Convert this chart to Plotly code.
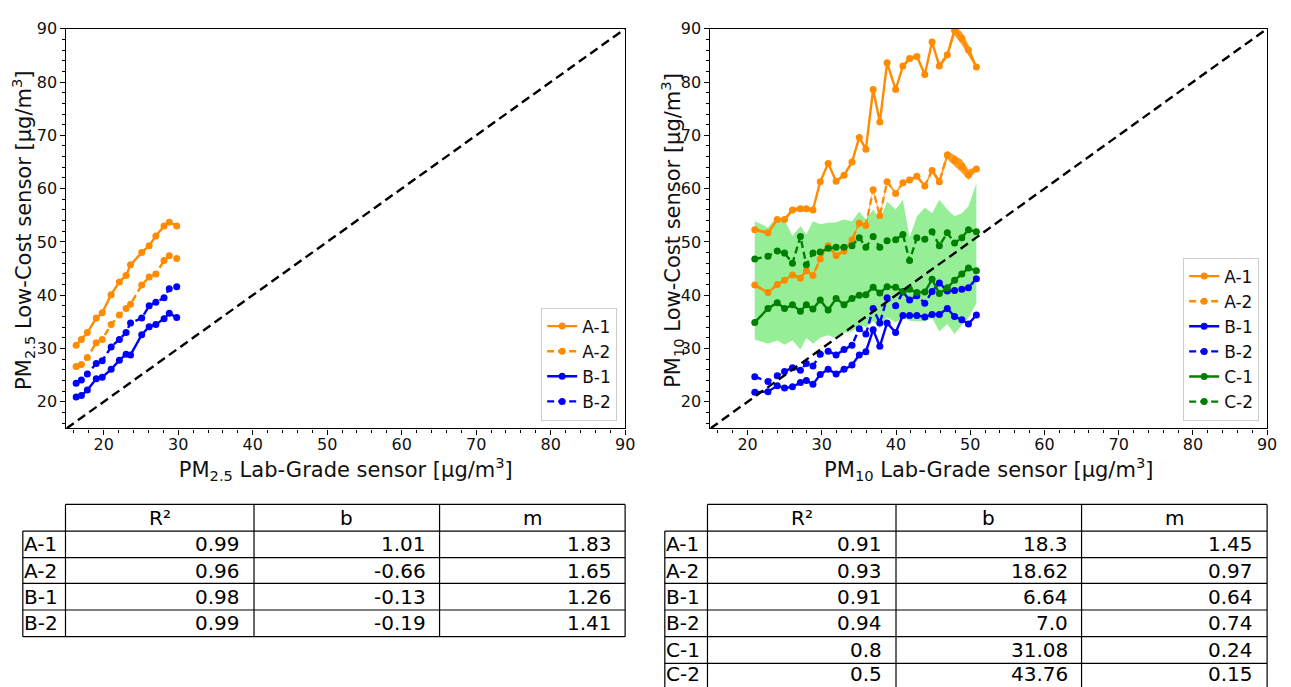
import plotly.graph_objects as go

W, H = 1291, 687

# ---------------- data: PM2.5 (left) ----------------
pm25_lab = [16.3, 17.0, 17.8, 19.0, 19.8, 21.0, 22.1, 23.0, 23.6, 25.1, 26.1, 27.0, 28.1, 28.8, 29.8]
pm25_A1 = [30.6, 31.7, 33.0, 35.7, 36.7, 40.1, 42.5, 43.7, 45.7, 48.0, 49.3, 51.1, 53.0, 53.7, 53.0]
pm25_A2 = [26.6, 27.0, 28.3, 31.1, 31.7, 34.5, 36.3, 37.5, 38.3, 41.9, 43.4, 44.0, 46.5, 47.4, 46.9]
pm25_B1 = [20.9, 21.2, 22.2, 24.3, 24.6, 26.1, 27.8, 28.9, 28.8, 32.6, 34.1, 34.5, 35.6, 36.6, 35.8]
pm25_B2 = [23.5, 24.1, 25.2, 27.2, 27.7, 30.3, 31.7, 33.0, 34.8, 35.7, 38.0, 38.7, 39.5, 41.2, 41.6]

# ---------------- data: PM10 (right) ----------------
pm10_lab = [20.97, 22.75, 24.0, 24.98, 26.05, 27.12, 27.92, 28.81, 29.79, 30.86,
            31.93, 33.0, 34.07, 35.05, 35.94, 36.92, 37.82, 38.8, 39.95, 40.93,
            41.83, 42.81, 43.88, 44.86, 45.84, 46.91, 47.89, 48.87, 49.76, 50.83]
pm10_A1 = [52.3, 51.7, 54.2, 54.2, 56.0, 56.2, 56.2, 56.0, 61.3, 64.7,
           61.4, 62.5, 65.0, 69.6, 67.4, 78.6, 72.5, 83.6, 78.6, 83.0,
           84.4, 84.8, 81.4, 87.5, 83.0, 85.1, 89.7, 88.2, 86.0, 82.8]
pm10_A1_spread = [0.3, 0.3, 0.3, 0.3, 0.4, 0.4, 0.4, 0.4, 0.3, 0.3,
                  0.3, 0.3, 0.4, 0.3, 0.3, 0.3, 0.3, 0.3, 0.3, 0.3,
                  0.4, 0.4, 0.3, 0.3, 0.4, 0.5, 0.9, 1.2, 1.0, 0.3]
pm10_A2 = [41.9, 40.5, 42.0, 42.8, 43.8, 43.2, 44.6, 43.7, 46.8, 49.3,
           47.4, 48.3, 50.4, 53.5, 53.1, 59.8, 54.9, 61.3, 59.1, 61.1,
           61.6, 62.3, 60.5, 63.4, 61.3, 66.3, 65.3, 64.2, 62.6, 63.7]
pm10_A2_spread = [0.3, 0.3, 0.3, 0.3, 0.3, 0.3, 0.3, 0.3, 0.3, 0.3,
                  0.3, 0.3, 0.3, 0.3, 0.3, 0.3, 0.3, 0.3, 0.3, 0.3,
                  0.3, 0.3, 0.3, 0.4, 0.5, 0.8, 1.0, 1.2, 1.0, 0.4]
pm10_B1 = [21.8, 21.9, 23.0, 22.6, 22.8, 23.6, 24.0, 23.3, 25.1, 26.1,
           25.2, 26.1, 26.9, 28.8, 29.4, 33.5, 30.4, 34.8, 33.0, 36.2,
           36.2, 36.2, 35.9, 36.4, 36.4, 37.5, 36.0, 35.4, 34.6, 36.3]
pm10_B2 = [24.7, 23.8, 24.9, 25.7, 26.4, 25.9, 27.2, 26.7, 28.9, 29.5,
           28.8, 29.8, 30.6, 33.7, 32.7, 37.5, 34.8, 39.5, 38.0, 40.6,
           39.1, 39.9, 38.5, 40.7, 42.3, 40.8, 40.9, 41.1, 41.4, 43.1]
pm10_C1 = [34.9, 37.5, 38.6, 37.5, 38.2, 37.0, 38.2, 37.4, 39.1, 37.2,
           39.4, 38.2, 39.4, 40.0, 40.1, 41.5, 40.4, 41.6, 41.5, 40.7,
           41.1, 40.5, 40.6, 43.0, 40.3, 41.4, 42.8, 44.0, 45.1, 44.6]
pm10_C2 = [46.8, 47.3, 48.3, 47.9, 46.0, 51.0, 45.7, 47.9, 48.1, 48.8,
           49.0, 49.0, 49.3, 50.8, 49.0, 51.0, 49.0, 50.2, 50.4, 51.4,
           46.5, 50.8, 50.5, 51.9, 49.3, 51.7, 49.8, 50.8, 52.3, 51.9]
pm10_C_upper = [53.9, 52.7, 54.8, 54.1, 51.1, 53.0, 51.4, 53.9, 53.3, 53.6,
                53.7, 54.2, 53.9, 55.7, 54.2, 56.1, 54.1, 57.6, 56.1, 57.9,
                50.8, 54.8, 56.4, 55.4, 57.9, 56.1, 54.8, 55.4, 56.7, 61.0]
pm10_C_lower = [31.7, 30.9, 31.5, 30.7, 31.5, 29.8, 32.0, 30.9, 32.0, 32.5,
                31.9, 32.9, 33.2, 34.4, 34.0, 35.1, 33.8, 35.8, 34.9, 35.8,
                35.2, 35.1, 35.1, 35.7, 33.2, 34.6, 32.7, 34.4, 35.7, 38.5]

identity = [15, 90]
x_ticks = [20, 30, 40, 50, 60, 70, 80, 90]
y_ticks = [20, 30, 40, 50, 60, 70, 80, 90]

# ---------------- table data ----------------
tbl_cols = ["R²", "b", "m"]
tbl25_rows = ["A-1", "A-2", "B-1", "B-2"]
tbl25_r2 = ["0.99", "0.96", "0.98", "0.99"]
tbl25_b = ["1.01", "-0.66", "-0.13", "-0.19"]
tbl25_m = ["1.83", "1.65", "1.26", "1.41"]
tbl10_rows = ["A-1", "A-2", "B-1", "B-2", "C-1", "C-2"]
tbl10_r2 = ["0.91", "0.93", "0.91", "0.94", "0.8", "0.5"]
tbl10_b = ["18.3", "18.62", "6.64", "7.0", "31.08", "43.76"]
tbl10_m = ["1.45", "0.97", "0.64", "0.74", "0.24", "0.15"]

ORANGE = "#ff8c00"
BLUE = "#0000ff"
GREEN = "#008000"
FONT = "DejaVu Sans"

fig = go.Figure()

def line(x, y, name, color, dash, xa, ya, legend):
    fig.add_trace(go.Scatter(
        x=x, y=y, name=name, mode="lines+markers",
        line=dict(color=color, width=2.4, dash=dash),
        marker=dict(color=color, size=7),
        xaxis=xa, yaxis=ya, legend=legend))

def band(x, lo, hi, color, xa, ya):
    fig.add_trace(go.Scatter(
        x=list(x) + list(x)[::-1], y=list(hi) + list(lo)[::-1],
        fill="toself", fillcolor=color, mode="lines",
        line=dict(width=0, color=color), hoverinfo="skip",
        showlegend=False, xaxis=xa, yaxis=ya))

DASH = "7px,4px"

# left panel
line(pm25_lab, pm25_A1, "A-1", ORANGE, "solid", "x", "y", "legend")
line(pm25_lab, pm25_A2, "A-2", ORANGE, DASH, "x", "y", "legend")
line(pm25_lab, pm25_B1, "B-1", BLUE, "solid", "x", "y", "legend")
line(pm25_lab, pm25_B2, "B-2", BLUE, DASH, "x", "y", "legend")
fig.add_trace(go.Scatter(x=identity, y=identity, mode="lines",
                         line=dict(color="black", width=2.4, dash="9px,5px"),
                         showlegend=False, xaxis="x", yaxis="y"))

# right panel
band(pm10_lab, pm10_C_lower, pm10_C_upper, "rgba(144,238,144,0.95)", "x2", "y2")
band(pm10_lab, [a - s for a, s in zip(pm10_A1, pm10_A1_spread)],
     [a + s for a, s in zip(pm10_A1, pm10_A1_spread)], "rgba(255,140,0,0.85)", "x2", "y2")
band(pm10_lab, [a - s for a, s in zip(pm10_A2, pm10_A2_spread)],
     [a + s for a, s in zip(pm10_A2, pm10_A2_spread)], "rgba(255,140,0,0.85)", "x2", "y2")
line(pm10_lab, pm10_A1, "A-1", ORANGE, "solid", "x2", "y2", "legend2")
line(pm10_lab, pm10_A2, "A-2", ORANGE, DASH, "x2", "y2", "legend2")
line(pm10_lab, pm10_B1, "B-1", BLUE, "solid", "x2", "y2", "legend2")
line(pm10_lab, pm10_B2, "B-2", BLUE, DASH, "x2", "y2", "legend2")
line(pm10_lab, pm10_C1, "C-1", GREEN, "solid", "x2", "y2", "legend2")
line(pm10_lab, pm10_C2, "C-2", GREEN, DASH, "x2", "y2", "legend2")
fig.add_trace(go.Scatter(x=identity, y=identity, mode="lines",
                         line=dict(color="black", width=2.4, dash="9px,5px"),
                         showlegend=False, xaxis="x2", yaxis="y2"))

def px2x(p):
    return p / W

def px2y(p):
    return 1 - p / H

axis_common = dict(
    range=[15, 90], showgrid=False, zeroline=False, showline=True,
    linecolor="black", linewidth=1.2, mirror=True,
    ticks="outside", ticklen=5, tickwidth=1.2, tickcolor="black",
    tickfont=dict(family=FONT, size=16, color="#111"),
    minor=dict(dtick=2, tick0=0, ticks="outside", ticklen=3, tickcolor="black", tickwidth=1),
)
ydom = [px2y(425), px2y(20)]
TFONT = dict(family=FONT, size=21, color="#111")

fig.update_layout(
    width=W, height=H, margin=dict(l=0, r=0, t=0, b=0),
    paper_bgcolor="white", plot_bgcolor="white",
    font=dict(family=FONT, color="#111"),
    xaxis=dict(axis_common, domain=[px2x(67), px2x(630)], tickvals=x_ticks, anchor="y",
               ticklabelstandoff=-4,
               title=dict(text="PM<sub>2.5</sub> Lab-Grade sensor [µg/m<sup>3</sup>]",
                          font=TFONT, standoff=0)),
    yaxis=dict(axis_common, domain=ydom, tickvals=y_ticks, anchor="x"),
    xaxis2=dict(axis_common, domain=[px2x(716), px2x(1277)], tickvals=x_ticks, anchor="y2",
                ticklabelstandoff=-4,
                title=dict(text="PM<sub>10</sub> Lab-Grade sensor [µg/m<sup>3</sup>]",
                           font=TFONT, standoff=0)),
    yaxis2=dict(axis_common, domain=ydom, tickvals=y_ticks, anchor="x2"),
    legend=dict(x=px2x(622), y=px2y(417), xanchor="right", yanchor="bottom",
                bgcolor="white", bordercolor="#cccccc", borderwidth=1,
                font=dict(family=FONT, size=17, color="#111")),
    legend2=dict(x=px2x(1269), y=px2y(417), xanchor="right", yanchor="bottom",
                 bgcolor="white", bordercolor="#cccccc", borderwidth=1,
                 font=dict(family=FONT, size=17, color="#111")),
)

shapes = []
annotations = []

# y-axis titles as rotated annotations
annotations.append(dict(xref="paper", yref="paper", showarrow=False, textangle=-90,
                        x=px2x(23), y=px2y(224), xanchor="center", yanchor="middle",
                        text="PM<sub>2.5</sub> Low-Cost sensor [µg/m<sup>3</sup>]", font=TFONT))
annotations.append(dict(xref="paper", yref="paper", showarrow=False, textangle=-90,
                        x=px2x(677), y=px2y(224), xanchor="center", yanchor="middle",
                        text="PM<sub>10</sub> Low-Cost sensor [µg/m<sup>3</sup>]", font=TFONT))

# ---------------- tables (shapes + text) ----------------
def add_table(xe, ye, rows, r2, b, m):
    lc = dict(color="black", width=1.2)
    shapes.append(dict(type="line", xref="paper", yref="paper",
                       x0=px2x(xe[1]), x1=px2x(xe[-1]), y0=px2y(ye[0]), y1=px2y(ye[0]), line=lc))
    for yy in ye[1:]:
        shapes.append(dict(type="line", xref="paper", yref="paper",
                           x0=px2x(xe[0]), x1=px2x(xe[-1]), y0=px2y(yy), y1=px2y(yy), line=lc))
    shapes.append(dict(type="line", xref="paper", yref="paper",
                       x0=px2x(xe[0]), x1=px2x(xe[0]), y0=px2y(ye[1]), y1=px2y(ye[-1]), line=lc))
    for xx in xe[1:]:
        shapes.append(dict(type="line", xref="paper", yref="paper",
                           x0=px2x(xx), x1=px2x(xx), y0=px2y(ye[0]), y1=px2y(ye[-1]), line=lc))
    tf = dict(family=FONT, size=20, color="black")
    for j, c in enumerate(tbl_cols):
        annotations.append(dict(xref="paper", yref="paper", showarrow=False,
                                x=px2x((xe[j + 1] + xe[j + 2]) / 2), y=px2y((ye[0] + ye[1]) / 2),
                                text=c, font=tf, xanchor="center", yanchor="middle"))
    for i, rname in enumerate(rows):
        yc_px = (ye[i + 1] + ye[i + 2]) / 2
        if ye[i + 2] > H:
            yc_px -= 3
        yc = px2y(yc_px)
        annotations.append(dict(xref="paper", yref="paper", showarrow=False,
                                x=px2x(xe[0] - 1), y=yc, text=rname, font=tf,
                                xanchor="left", yanchor="middle"))
        for j, vals in enumerate([r2, b, m]):
            w = xe[j + 2] - xe[j + 1]
            annotations.append(dict(xref="paper", yref="paper", showarrow=False,
                                    x=px2x(xe[j + 2] - 0.1 * w + 7), y=yc, text=vals[i], font=tf,
                                    xanchor="right", yanchor="middle"))

add_table([23, 66, 256, 443, 630], [502, 529, 556, 582, 609, 636],
          tbl25_rows, tbl25_r2, tbl25_b, tbl25_m)
add_table([670, 713, 903, 1090, 1277], [502, 529, 556, 582, 609, 636, 663, 690],
          tbl10_rows, tbl10_r2, tbl10_b, tbl10_m)

fig.update_layout(shapes=shapes, annotations=annotations)
fig.write_html("out.html")
